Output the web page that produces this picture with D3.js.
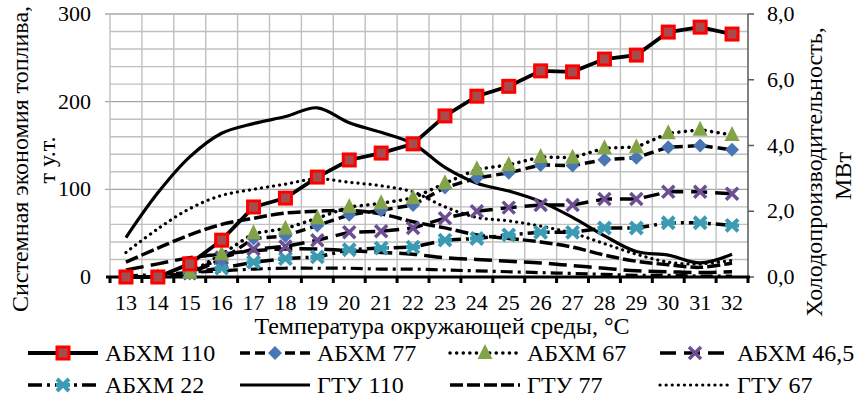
<!DOCTYPE html>
<html lang="ru">
<head>
<meta charset="UTF-8">
<title>chart</title>
<style>
  body { margin: 0; background: #fff; }
  svg text { font-family: "Liberation Serif", "Times New Roman", serif; }
</style>
</head>
<body>
<div id="chart"></div>
<script src="https://cdn.jsdelivr.net/npm/d3@7"></script>
<script>
// температура окружающей среды, °C
const temps = ['13','14','15','16','17','18','19','20','21','22','23','24','25','26','27','28','29','30','31','32']

// холодопроизводительность АБХМ, МВт (правая ось)
const abhm110 = [0, 0, 0.4, 1.12, 2.13, 2.4, 3.04, 3.56, 3.77, 4.05, 4.9, 5.5, 5.8, 6.27, 6.24, 6.63, 6.75, 7.45, 7.6, 7.39]
const abhm77  = [0, 0, 0.11, 0.53, 1.17, 1.25, 1.57, 1.89, 2.03, 2.19, 2.72, 3.01, 3.17, 3.41, 3.39, 3.57, 3.63, 3.95, 4.0, 3.87]
const abhm67  = [0, 0, 0.13, 0.69, 1.33, 1.47, 1.79, 2.13, 2.24, 2.4, 2.85, 3.28, 3.41, 3.65, 3.63, 3.92, 3.95, 4.37, 4.48, 4.32]
const abhm465 = [0, 0, 0.11, 0.59, 0.85, 0.93, 1.12, 1.36, 1.39, 1.49, 1.79, 2.0, 2.11, 2.19, 2.19, 2.37, 2.37, 2.59, 2.59, 2.53]
const abhm22  = [0, 0, 0.13, 0.27, 0.45, 0.56, 0.61, 0.83, 0.88, 0.91, 1.12, 1.17, 1.28, 1.36, 1.36, 1.49, 1.49, 1.65, 1.65, 1.57]

// системная экономия топлива, т у.т. (левая ось)
const gtu110 = [45, 96, 137, 164, 175, 183, 193, 176, 165, 152, 125, 107, 98, 86, 68, 47, 29, 25, 16, 26]
const gtu77  = [17, 33, 48, 60, 67, 73, 75, 76, 72, 63, 56, 48, 44, 40, 34, 25, 18, 14, 11, 16]
const gtu67  = [28, 55, 78, 93, 100, 106, 112, 108, 104, 97, 80, 68, 64, 58, 50, 38, 26, 17, 15, 19]
const gtu465 = [8, 15, 22, 26, 30, 32, 32, 30, 28, 26, 22, 20, 18, 16, 13, 10, 7, 6, 5, 6]
const gtu22  = [1, 3, 5, 7, 9, 10, 10, 10, 9, 9, 8, 7, 6, 5, 4, 3, 2, 2, 1, 1]

const leftTicks = [0, 100, 200, 300]
const rightTicks = [0, 2, 4, 6, 8]

const width = 859
const height = 400
const m = { left: 110, right: 748, top: 14, bottom: 277 }

const svg = d3.select('#chart').append('svg')
  .attr('width', width).attr('height', height)

const x = d3.scaleBand().domain(temps).range([m.left, m.right])
const yL = d3.scaleLinear().domain([0, 300]).range([m.bottom, m.top])
const yR = d3.scaleLinear().domain([0, 8]).range([m.bottom, m.top])
const cx = t => x(t) + x.bandwidth() / 2

// сетка
const grid = svg.append('g').attr('stroke', '#c0c0c0').attr('stroke-width', 1.4)
grid.selectAll('.h').data(d3.range(20, 301, 20)).enter().append('line')
  .attr('x1', d => d % 100 === 0 ? m.left - 5 : m.left).attr('x2', m.right)
  .attr('y1', d => yL(d)).attr('y2', d => yL(d))
  .attr('stroke', d => d % 100 === 0 ? '#a6a6a6' : '#c0c0c0')
grid.selectAll('.v').data(temps.slice(1)).enter().append('line')
  .attr('x1', d => x(d)).attr('x2', d => x(d))
  .attr('y1', m.top).attr('y2', m.bottom)
grid.append('line').attr('x1', m.left).attr('x2', m.left).attr('y1', m.top).attr('y2', m.bottom)

// правая ось
svg.append('line').attr('x1', m.right).attr('x2', m.right).attr('y1', m.top).attr('y2', m.bottom)
  .attr('stroke', '#595959').attr('stroke-width', 1.5)
svg.append('g').selectAll('line').data(rightTicks).enter().append('line')
  .attr('x1', m.right).attr('x2', m.right + 6)
  .attr('y1', d => yR(d)).attr('y2', d => yR(d))
  .attr('stroke', '#595959').attr('stroke-width', 1.5)

// ось X
svg.append('line').attr('x1', m.left - 4).attr('x2', m.right + 2).attr('y1', m.bottom).attr('y2', m.bottom)
  .attr('stroke', '#000').attr('stroke-width', 3)
svg.append('g').selectAll('line').data(temps.concat(['end'])).enter().append('line')
  .attr('x1', (d, i) => m.left + i * x.bandwidth()).attr('x2', (d, i) => m.left + i * x.bandwidth())
  .attr('y1', m.bottom).attr('y2', m.bottom + 6)
  .attr('stroke', '#000').attr('stroke-width', 3)

// подписи осей
svg.append('g').selectAll('text').data(temps).enter().append('text')
  .attr('x', d => cx(d)).attr('y', 310)
  .attr('text-anchor', 'middle').attr('font-size', 22)
  .text(d => d)
svg.append('g').selectAll('text').data(leftTicks).enter().append('text')
  .attr('x', 91).attr('y', d => yL(d) + 7)
  .attr('text-anchor', 'end').attr('font-size', 22)
  .text(d => d)
svg.append('g').selectAll('text').data(rightTicks).enter().append('text')
  .attr('x', 767).attr('y', d => yR(d) + 7)
  .attr('font-size', 22)
  .text(d => d3.format('.1f')(d).replace('.', ','))

svg.append('text').attr('x', 442).attr('y', 334).attr('text-anchor', 'middle')
  .attr('font-size', 24).text('Температура окружающей среды, °С')
svg.append('text').attr('transform', 'translate(20,159) rotate(-90)')
  .attr('text-anchor', 'middle').attr('dominant-baseline', 'central')
  .attr('font-size', 24).text('Системная экономия топлива,')
svg.append('text').attr('transform', 'translate(47,160) rotate(-90)')
  .attr('text-anchor', 'middle').attr('dominant-baseline', 'central')
  .attr('font-size', 24).text('т у.т.')
svg.append('text').attr('transform', 'translate(814,172) rotate(-90)')
  .attr('text-anchor', 'middle').attr('dominant-baseline', 'central')
  .attr('font-size', 24).text('Холодопроизводительность,')
svg.append('text').attr('transform', 'translate(843,176) rotate(-90)')
  .attr('text-anchor', 'middle').attr('dominant-baseline', 'central')
  .attr('font-size', 24).text('МВт')

// маркеры
function drawMarker(g, type, px, py) {
  if (type === 'square') {
    g.append('rect').attr('x', px - 6).attr('y', py - 6).attr('width', 12).attr('height', 12)
      .attr('fill', '#a84b4d').attr('stroke', '#ff0000').attr('stroke-width', 3)
  } else if (type === 'diamond') {
    g.append('path').attr('d', `M${px},${py - 7}L${px + 7},${py}L${px},${py + 7}L${px - 7},${py}Z`)
      .attr('fill', '#4a76b4')
  } else if (type === 'triangle') {
    g.append('path').attr('d', `M${px},${py - 9}L${px + 7.5},${py + 6}L${px - 7.5},${py + 6}Z`)
      .attr('fill', '#82a347')
  } else if (type === 'cross') {
    g.append('path').attr('d', `M${px - 6},${py - 6}L${px + 6},${py + 6}M${px + 6},${py - 6}L${px - 6},${py + 6}`)
      .attr('stroke', '#6d4e92').attr('stroke-width', 3.5)
  } else if (type === 'star') {
    g.append('path').attr('d', `M${px - 6},${py - 6}L${px + 6},${py + 6}M${px + 6},${py - 6}L${px - 6},${py + 6}M${px - 7},${py}L${px + 7},${py}`)
      .attr('stroke', '#3a9bb3').attr('stroke-width', 4)
  }
}

const series = [
  { name: 'ГТУ 22', data: gtu22, axis: yL, dash: '12,5,3,5', w: 3.2, curve: true },
  { name: 'ГТУ 46,5', data: gtu465, axis: yL, dash: '18,7', w: 3.5, curve: true },
  { name: 'ГТУ 67', data: gtu67, axis: yL, dash: '0.1,6', w: 3.2, curve: true, cap: 'round' },
  { name: 'ГТУ 77', data: gtu77, axis: yL, dash: '13,4', w: 3.5, curve: true },
  { name: 'ГТУ 110', data: gtu110, axis: yL, dash: null, w: 3.2, curve: true },
  { name: 'АБХМ 22', data: abhm22, axis: yR, dash: '14,5,3,5', w: 3.5, marker: 'star' },
  { name: 'АБХМ 46,5', data: abhm465, axis: yR, dash: '16,8', w: 3.5, marker: 'cross' },
  { name: 'АБХМ 77', data: abhm77, axis: yR, dash: '10,5', w: 3.5, marker: 'diamond' },
  { name: 'АБХМ 67', data: abhm67, axis: yR, dash: '0.1,6.5', w: 3.5, marker: 'triangle', cap: 'round' },
  { name: 'АБХМ 110', data: abhm110, axis: yR, dash: null, w: 3.8, marker: 'square' }
]

series.forEach(s => {
  const line = d3.line()
    .x((d, i) => cx(temps[i]))
    .y(d => s.axis(d))
    .curve(s.curve ? d3.curveCatmullRom.alpha(0.5) : d3.curveLinear)
  svg.append('path').datum(s.data)
    .attr('d', line)
    .attr('fill', 'none').attr('stroke', '#000').attr('stroke-width', s.w)
    .attr('stroke-dasharray', s.dash)
    .attr('stroke-linecap', s.cap || 'butt')
})
series.filter(s => s.marker).forEach(s => {
  const g = svg.append('g')
  s.data.forEach((d, i) => drawMarker(g, s.marker, cx(temps[i]), s.axis(d)))
})

// легенда
const legendItems = [
  { name: 'АБХМ 110', col: 0, row: 0 },
  { name: 'АБХМ 77', col: 1, row: 0 },
  { name: 'АБХМ 67', col: 2, row: 0 },
  { name: 'АБХМ 46,5', col: 3, row: 0 },
  { name: 'АБХМ 22', col: 0, row: 1 },
  { name: 'ГТУ 110', col: 1, row: 1 },
  { name: 'ГТУ 77', col: 2, row: 1 },
  { name: 'ГТУ 67', col: 3, row: 1 }
]
const colX = [28, 240, 450, 660]
const rowY = [353, 385]
legendItems.forEach(it => {
  const s = series.find(d => d.name === it.name)
  const lx = colX[it.col]
  const ly = rowY[it.row]
  const g = svg.append('g')
  g.append('line').attr('x1', lx).attr('x2', lx + 70).attr('y1', ly).attr('y2', ly)
    .attr('stroke', '#000').attr('stroke-width', s.w)
    .attr('stroke-dasharray', s.dash).attr('stroke-linecap', s.cap || 'butt')
  if (s.marker) drawMarker(g, s.marker, lx + 35, ly)
  g.append('text').attr('x', lx + 77).attr('y', ly + 8).attr('font-size', 24).text(it.name)
})
</script>
</body>
</html>
